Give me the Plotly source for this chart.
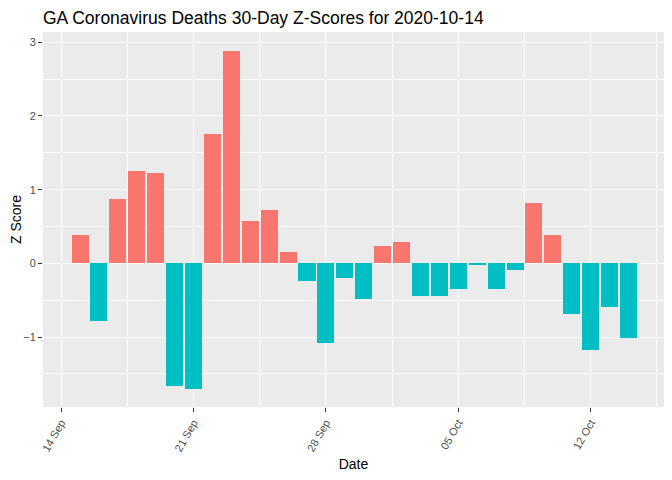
import plotly.graph_objects as go
import pandas as pd

dates = pd.date_range("2020-09-15", "2020-10-14", freq="D")
zscores = [0.39, -0.78, 0.87, 1.26, 1.22, -1.66, -1.70, 1.75, 2.88, 0.58,
           0.72, 0.15, -0.24, -1.08, -0.20, -0.48, 0.24, 0.29, -0.44, -0.44,
           -0.35, -0.01, -0.35, -0.09, 0.82, 0.39, -0.69, -1.17, -0.59, -1.02]
pos_color = "#F8766D"
neg_color = "#00BFC4"
colors = [pos_color if v > 0 else neg_color for v in zscores]

DAY = 86400000
fig = go.Figure(go.Bar(x=dates, y=zscores, marker_color=colors,
                       marker_line_width=0, width=0.9 * DAY, showlegend=False))

# page has an 8px body margin; margins compensate so the panel lands where the reference has it
fig.update_layout(
    width=672, height=480,
    margin=dict(l=35, r=16, t=24, b=81, autoexpand=False),
    paper_bgcolor="white", plot_bgcolor="#EBEBEB",
    font=dict(family="Liberation Sans, Arial", color="black"),
    title=dict(text="GA Coronavirus Deaths 30-Day Z-Scores for 2020-10-14",
               x=35 / 672, xanchor="left", y=1 - 4 / 480, yanchor="top",
               pad=dict(t=0, b=0, l=0, r=0),
               font=dict(size=17.5, color="black")),
    bargap=0,
)
fig.update_xaxes(
    type="date", automargin=False,
    range=["2020-09-13 01:00", "2020-10-15 21:00"],
    tick0="2020-09-14", dtick=7 * DAY, tickformat="%d %b",
    tickangle=-60, ticks="outside", ticklen=4, tickcolor="#333333",
    tickfont=dict(size=11, color="#4D4D4D"),
    showgrid=True, gridcolor="white", gridwidth=1.1,
    minor=dict(tick0="2020-09-10 12:00", dtick=3.5 * DAY, showgrid=True,
               gridcolor="white", gridwidth=0.5),
    zeroline=False, showline=False,
    title=dict(text="Date", font=dict(size=14, color="black"), standoff=6),
)
fig.update_yaxes(
    automargin=False,
    range=[-1.95, 3.14],
    tickvals=[-1, 0, 1, 2, 3],
    ticks="outside", ticklen=4, tickcolor="#333333",
    tickfont=dict(size=11, color="#4D4D4D"),
    showgrid=True, gridcolor="white", gridwidth=1.1,
    minor=dict(tickvals=[-1.5, -0.5, 0.5, 1.5, 2.5], showgrid=True,
               gridcolor="white", gridwidth=0.5),
    zeroline=False, showline=False,
    title=dict(text="Z Score", font=dict(size=14, color="black"), standoff=0),
)

fig.write_html("out.html")
